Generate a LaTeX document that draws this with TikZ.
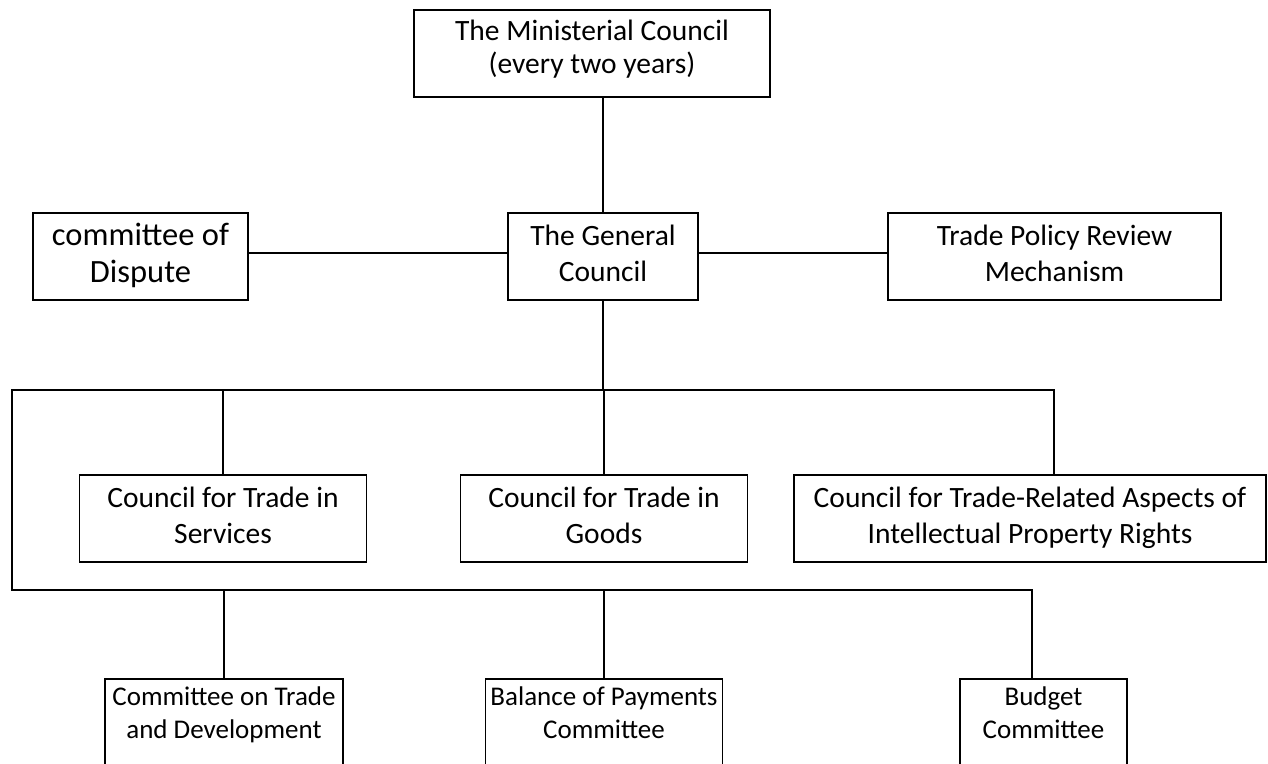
\documentclass[tikz,border=0pt]{standalone}
\usepackage{fontspec}
\setmainfont{Carlito}
\newcommand\topstrut[1]{\rule{0pt}{#1}}
\newcommand\botstrut[1]{\rule[-#1]{0pt}{#1}}
\begin{document}
\begin{tikzpicture}[x=1pt,y=-1pt,
  line width=1.5pt,
  box/.style={draw, line width=1.5pt, inner sep=0pt, align=center,
    minimum height=87pt,
    font=\fontsize{29.5}{36}\selectfont,
    execute at begin node=\topstrut{22pt},
    execute at end node=\botstrut{7pt}},
  minbox/.style={box, font=\fontsize{29.5}{33}\selectfont,
    execute at end node=\botstrut{14pt}},
  bigbox/.style={box, font=\fontsize{32.5}{37}\selectfont,
    execute at begin node=\topstrut{25pt},
    execute at end node=\botstrut{5pt}},
  leaf/.style={draw, line width=1.5pt, inner sep=0pt, anchor=north, minimum height=130pt},
  leaftext/.style={anchor=north, inner sep=0pt, align=center,
    font=\fontsize{27}{33}\selectfont}]
\clip (0,0) rectangle (1268,763);
\node (min) [minbox, minimum width=356pt] at (592,53.5)
  {The Ministerial Council\\(every two years)};
\node (gen) [box, minimum width=190pt] at (603,256.5)
  {The General\\Council};
\node (disp) [bigbox, minimum width=215pt] at (140.5,256.5)
  {committee of\\Dispute};
\node (tprm) [box, minimum width=333pt] at (1054.5,256.5)
  {Trade Policy Review\\Mechanism};
\node (svc) [box, minimum width=287pt] at (223,518.5)
  {Council for Trade in\\Services};
\node (goods) [box, minimum width=287pt] at (604,518.5)
  {Council for Trade in\\Goods};
\node (trips) [box, minimum width=472pt] at (1030,518.5)
  {Council for Trade-Related Aspects of\\Intellectual Property Rights};
\node (ctd) [leaf, minimum width=238pt] at (224,678) {};
\node (bop) [leaf, minimum width=237pt] at (604,678) {};
\node (bud) [leaf, minimum width=167pt] at (1043.5,678) {};
\node (ctdt) [leaftext] at ([yshift=-8pt]ctd.north) {Committee on Trade\\and Development};
\node (bopt) [leaftext] at ([yshift=-8pt]bop.north) {Balance of Payments\\Committee};
\node (budt) [leaftext] at ([yshift=-8pt]bud.north) {Budget\\Committee};
\coordinate (b1L) at (12,390);
\coordinate (b1R) at (1054,390);
\coordinate (b2L) at (12,590);
\coordinate (b2R) at (1032,590);
\draw (min.south -| gen.north) -- (gen.north);
\draw ([yshift=3.5pt]disp.east) -- ([yshift=3.5pt]gen.west);
\draw ([yshift=3.5pt]gen.east) -- ([yshift=3.5pt]tprm.west);
\draw (gen.south) -- (gen.south |- b1L);
\draw (trips.north -| b1R) -- (b1R) -- (b1L) -- (b2L) -- (b2R) -- (bud.north -| b2R);
\draw (svc.north) -- (svc.north |- b1L);
\draw (goods.north) -- (goods.north |- b1L);
\draw (ctd.north) -- (ctd.north |- b2L);
\draw (bop.north) -- (bop.north |- b2L);
\end{tikzpicture}
\end{document}
